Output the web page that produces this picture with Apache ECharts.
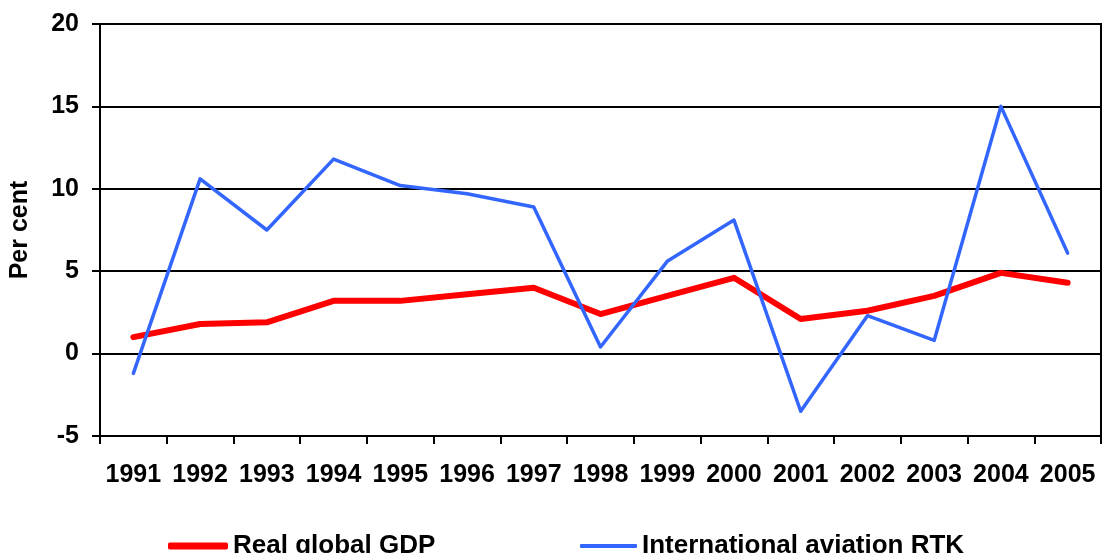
<!DOCTYPE html>
<html>
<head>
<meta charset="utf-8">
<script src="https://cdn.jsdelivr.net/npm/echarts@6/dist/echarts.min.js"></script>
<style>
  html, body { margin: 0; padding: 0; background: #fff; }
  #chart { width: 1104px; height: 553px; }
</style>
</head>
<body>
<div id="chart"></div>
<script>
// years on the x axis
const years = ['1991', '1992', '1993', '1994', '1995', '1996', '1997', '1998',
  '1999', '2000', '2001', '2002', '2003', '2004', '2005'];
// annual growth, per cent
const gdp = [1.0, 1.8, 1.9, 3.2, 3.2, 3.6, 4.0, 2.4, 3.5, 4.6, 2.1, 2.6, 3.5, 4.9, 4.3];
const rtk = [-1.2, 10.6, 7.5, 11.8, 10.2, 9.7, 8.9, 0.4, 5.6, 8.1, -3.5, 2.3, 0.8, 15.0, 6.1];

const font = 'Liberation Sans, Arial, sans-serif';

const chart = echarts.init(document.getElementById('chart'));
chart.setOption({
  animation: false,
  grid: {
    left: 99, right: 3, top: 24, bottom: 117,
    show: true, borderColor: '#000', borderWidth: 2
  },
  legend: [
    {
      data: [{ name: 'Real global GDP', icon: 'roundRect' }],
      left: 163, top: 528,
      itemWidth: 60, itemHeight: 7,
      textStyle: { fontFamily: font, fontWeight: 'bold', fontSize: 26, color: '#000' }
    },
    {
      data: [{ name: 'International aviation RTK', icon: 'roundRect' }],
      left: 575, top: 528,
      itemWidth: 57, itemHeight: 4,
      textStyle: { fontFamily: font, fontWeight: 'bold', fontSize: 26, color: '#000' }
    }
  ],
  xAxis: {
    type: 'category',
    data: years,
    boundaryGap: true,
    axisLine: { onZero: false, lineStyle: { color: '#000', width: 2 } },
    axisTick: { show: true, length: 8, lineStyle: { color: '#000', width: 2 } },
    axisLabel: { margin: 27, fontFamily: font, fontWeight: 'bold', fontSize: 25, color: '#000', interval: 0 }
  },
  yAxis: {
    type: 'value',
    min: -5, max: 20, interval: 5,
    name: 'Per cent',
    nameLocation: 'middle',
    nameGap: 67,
    nameTextStyle: { fontFamily: font, fontWeight: 'bold', fontSize: 25, color: '#000' },
    axisLine: { show: true, lineStyle: { color: '#000', width: 2 } },
    axisTick: { show: true, length: 8, lineStyle: { color: '#000', width: 2 } },
    axisLabel: { margin: 21, fontFamily: font, fontWeight: 'bold', fontSize: 25, color: '#000' },
    splitLine: { show: true, lineStyle: { color: '#000', width: 2 } }
  },
  series: [
    {
      name: 'Real global GDP',
      type: 'line',
      data: gdp,
      symbol: 'none',
      color: '#ff0000',
      lineStyle: { color: '#ff0000', width: 6, cap: 'round', join: 'round' },
      z: 3
    },
    {
      name: 'International aviation RTK',
      type: 'line',
      data: rtk,
      symbol: 'none',
      color: '#3366ff',
      lineStyle: { color: '#3366ff', width: 3.5, cap: 'round', join: 'round' },
      z: 4
    }
  ]
});
</script>
</body>
</html>
